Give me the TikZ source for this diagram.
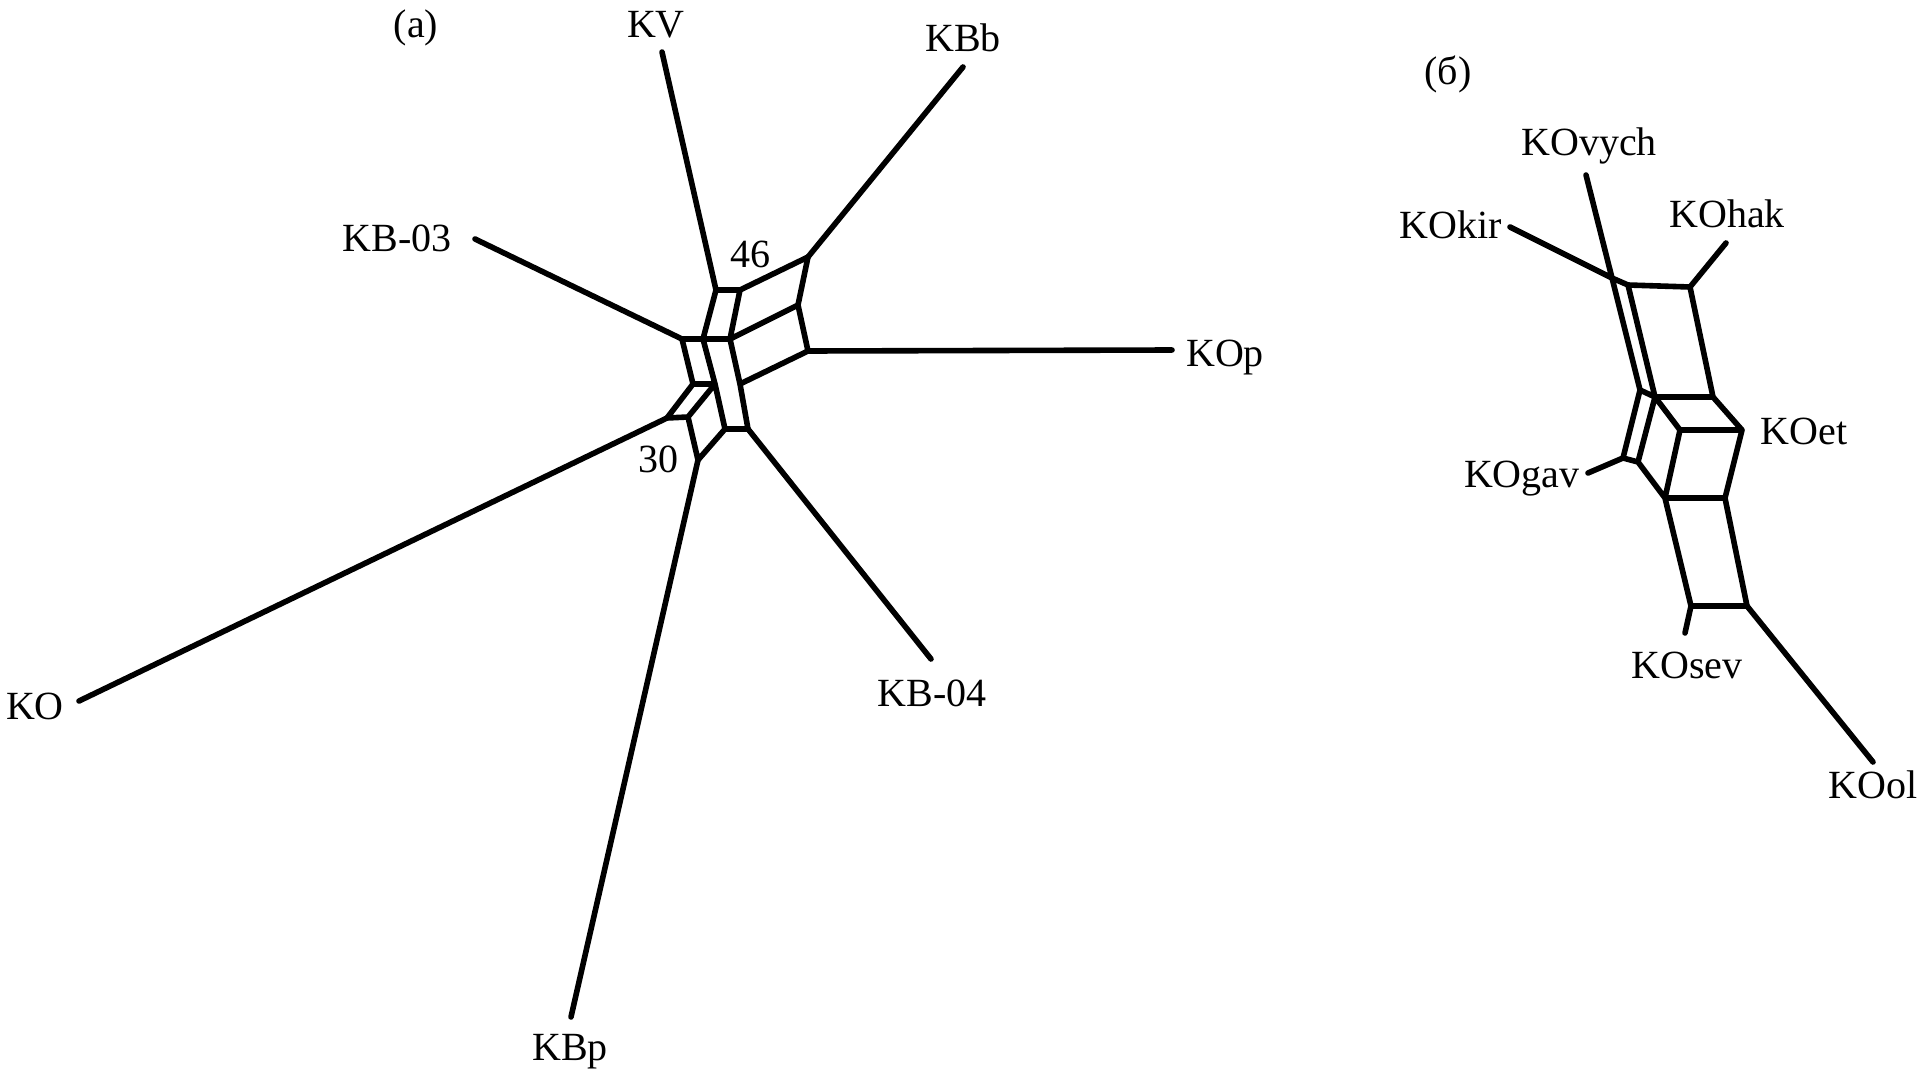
\documentclass[tikz,border=0pt]{standalone}
\usepackage{fontspec}
\setmainfont{Liberation Serif}
\begin{document}
\begin{tikzpicture}[x=0.5pt,y=-0.5pt,
  edge/.style={line width=2.8pt, line cap=round, line join=round},
  lbl/.style={font=\fontsize{20pt}{22pt}\selectfont, inner sep=0pt, anchor=base}]
\useasboundingbox (0,0) rectangle (1924,1076);
% ---------- (a) ----------
\coordinate (A) at (716,290);
\coordinate (B) at (740,290);
\coordinate (C) at (808,257);
\coordinate (D) at (798,305);
\coordinate (E) at (808,351);
\coordinate (F) at (730,339);
\coordinate (G) at (703,339);
\coordinate (H) at (682,339);
\coordinate (I) at (693,384);
\coordinate (J) at (715,384);
\coordinate (K) at (740,384);
\coordinate (L) at (725,429);
\coordinate (M) at (748,429);
\coordinate (N) at (688,417);
\coordinate (P) at (667,418);
\coordinate (Q) at (698,460);
\coordinate (tKV) at (662,52);
\coordinate (tKBb) at (963,67);
\coordinate (tKB03) at (475,239);
\coordinate (tKOp) at (1172,350);
\coordinate (tKB04) at (931,659);
\coordinate (tKBp) at (571,1017);
\coordinate (tKO) at (79,701);
\draw[edge] (A)--(B) (A)--(G) (B)--(F) (B)--(C) (C)--(D) (F)--(D) (D)--(E)
  (E)--(K) (F)--(K) (K)--(M) (G)--(J) (J)--(L) (L)--(M) (H)--(G) (G)--(F)
  (H)--(I) (I)--(J) (I)--(P) (J)--(N) (P)--(N) (N)--(Q) (L)--(Q);
\draw[edge] (A)--(tKV) (C)--(tKBb) (H)--(tKB03) (E)--(tKOp) (M)--(tKB04)
  (Q)--(tKBp) (P)--(tKO);
\node[lbl] (la) at (416,38) {(а)};
\node[lbl] (lKV) at (656,38) {KV};
\node[lbl] (lKBb) at (963,51) {KBb};
\node[lbl] (lKB03) at (397,251) {KB-03};
\node[lbl] (l46) at (750,267) {46};
\node[lbl] (lKOp) at (1225,366) {KOp};
\node[lbl] (l30) at (658,472) {30};
\node[lbl] (lKO) at (35,719) {KO};
\node[lbl] (lKB04) at (932,706) {KB-04};
\node[lbl] (lKBp) at (570,1060) {KBp};
% ---------- (b) ----------
\coordinate (a) at (1612,278);
\coordinate (b) at (1628,285);
\coordinate (c) at (1690,287);
\coordinate (d) at (1640,390);
\coordinate (e) at (1655,397);
\coordinate (f) at (1713,397);
\coordinate (g) at (1680,430);
\coordinate (h) at (1742,430);
\coordinate (i) at (1623,458);
\coordinate (j) at (1638,462);
\coordinate (k) at (1665,498);
\coordinate (l) at (1725,498);
\coordinate (m) at (1691,606);
\coordinate (n) at (1747,606);
\coordinate (tkir) at (1510,227);
\coordinate (tvych) at (1586,175);
\coordinate (thak) at (1726,243);
\coordinate (tgav) at (1588,473);
\coordinate (tsev) at (1685,633);
\coordinate (tol) at (1873,762);
\draw[edge] (a)--(b) (b)--(c) (a)--(d) (b)--(e) (c)--(f) (d)--(e) (e)--(f)
  (e)--(g) (f)--(h) (g)--(h) (d)--(i) (e)--(j) (i)--(j) (j)--(k) (g)--(k)
  (h)--(l) (k)--(l) (k)--(m) (l)--(n) (m)--(n);
\draw[edge] (a)--(tkir) (a)--(tvych) (c)--(thak) (i)--(tgav) (m)--(tsev) (n)--(tol);
\node[lbl] (lb) at (1448,84) {(б)};
\node[lbl] (lvych) at (1589,155) {KOvych};
\node[lbl] (lkir) at (1451,238) {KOkir};
\node[lbl] (lhak) at (1727,227) {KOhak};
\node[lbl] (let) at (1804,444) {KOet};
\node[lbl, anchor=base east] (lgav) at (1580,487) {KOgav};
\node[lbl] (lsev) at (1687,678) {KOsev};
\node[lbl] (lol) at (1873,798) {KOol};
\end{tikzpicture}
\end{document}
